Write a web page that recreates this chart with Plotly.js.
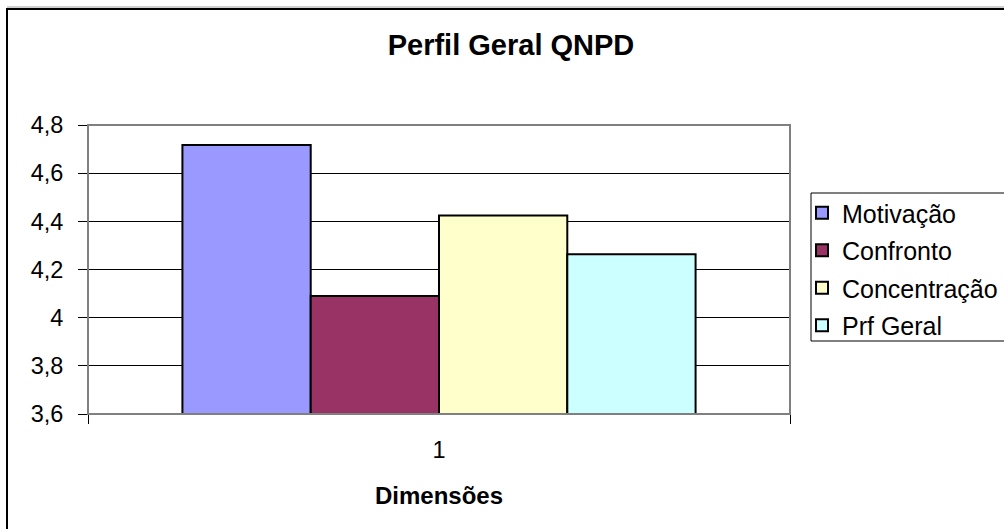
<!DOCTYPE html>
<html>
<head>
<meta charset="utf-8">
<script src="https://cdn.plot.ly/plotly-3.0.1.min.js"></script>
<style>html,body{margin:0;padding:0;background:#fff;}#chart{width:1004px;height:529px;}</style>
</head>
<body>
<div id="chart"></div>
<script>
const categories = ['1'];
const seriesNames = ['Motivação', 'Confronto', 'Concentração', 'Prf Geral'];
const motivacao = [4.717];
const confronto = [4.09];
const concentracao = [4.424];
const prfGeral = [4.263];
const seriesValues = [motivacao, confronto, concentracao, prfGeral];
const seriesColors = ['#9999FF', '#993366', '#FFFFCC', '#CCFFFF'];
const yTickVals = [3.6, 3.8, 4.0, 4.2, 4.4, 4.6, 4.8];

const FONT = 'Liberation Sans, Arial, sans-serif';
const traces = seriesNames.map((name, i) => ({
  type: 'bar',
  name: name,
  legendgroup: 'g' + i,
  x: categories,
  y: seriesValues[i],
  marker: {color: seriesColors[i], line: {color: '#000', width: 2}},
  hoverinfo: 'none'
}));

const L = 88, R = 790, T = 125, B = 414;
const W = 1004, H = 529;
const pw = R - L, ph = B - T;
const px = v => (v - L) / pw;
const py = v => (B - v) / ph;

const layout = {
  width: W, height: H,
  margin: {l: L, r: W - R, t: T, b: H - B, pad: 0, autoexpand: false},
  paper_bgcolor: '#fff', plot_bgcolor: '#fff',
  separators: ',.',
  font: {family: FONT, color: '#000', size: 23.5},
  title: {text: '<b>Perfil Geral QNPD</b>', font: {family: FONT, size: 29, color: '#000'},
          x: 511 / W, xref: 'container', xanchor: 'center', y: 1 - 44.5 / H, yref: 'container', yanchor: 'middle'},
  barmode: 'group', bargap: 0.269, bargroupgap: 0,
  xaxis: {
    type: 'category', showgrid: false, showline: false, zeroline: false,
    ticks: 'outside', tickson: 'boundaries', ticklen: 9, tickcolor: '#000', tickwidth: 1,
    tickfont: {size: 23.5}, ticklabelstandoff: 19,
    title: {text: '<b>Dimensões</b>', font: {size: 24}, standoff: 25}
  },
  yaxis: {
    range: [3.6, 4.8], tickvals: yTickVals, showgrid: true, gridcolor: '#000', gridwidth: 1,
    zeroline: false, showline: false, ticks: 'outside', ticklen: 9, tickcolor: '#000',
    tickfont: {size: 23.5}, ticklabelstandoff: 10
  },
  showlegend: true,
  legend: {
    x: px(802), xanchor: 'left', y: py(190), yanchor: 'top',
    bgcolor: 'rgba(0,0,0,0)', borderwidth: 0, tracegroupgap: 2,
    font: {size: 25, family: FONT}, itemclick: false, traceorder: 'grouped'
  },
  shapes: [
    {type: 'rect', xref: 'paper', yref: 'paper', x0: 0, x1: 1, y0: 0, y1: 1,
     line: {color: '#808080', width: 2}, fillcolor: 'rgba(0,0,0,0)', layer: 'above'},
    {type: 'rect', xref: 'paper', yref: 'paper', x0: px(7), x1: px(1040), y0: py(560), y1: py(9),
     line: {color: '#000', width: 2}, fillcolor: 'rgba(0,0,0,0)', layer: 'below'},
    {type: 'line', xref: 'paper', yref: 'paper', x0: px(7), x1: px(1040), y0: py(7), y1: py(7),
     line: {color: '#a0a0a0', width: 1}, layer: 'below'},
    {type: 'rect', xref: 'paper', yref: 'paper', x0: px(811), x1: px(1010), y0: py(341), y1: py(193),
     line: {color: '#000', width: 1}, fillcolor: '#fff', layer: 'below'}
  ]
};

Plotly.newPlot('chart', traces, layout, {displayModeBar: false, staticPlot: true});
</script>
</body>
</html>
